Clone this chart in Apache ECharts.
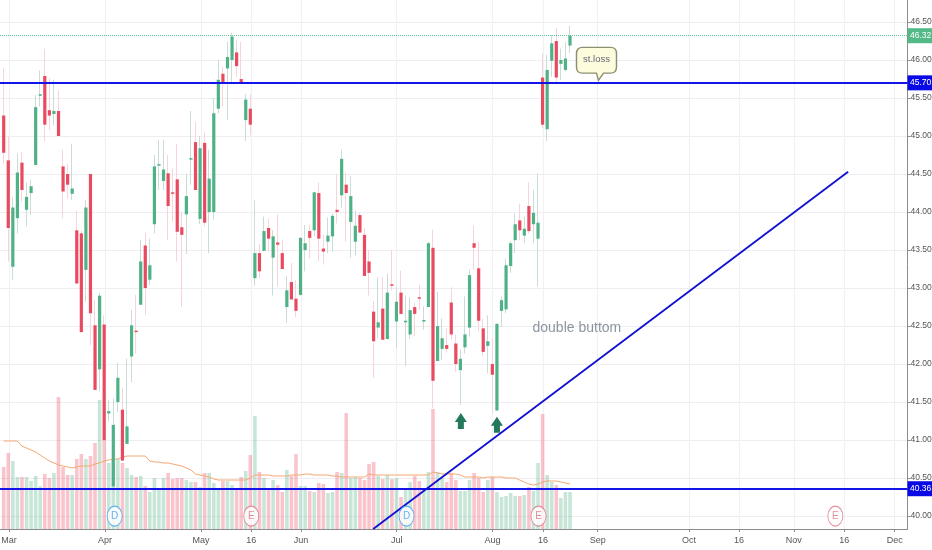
<!DOCTYPE html>
<html>
<head>
<meta charset="utf-8">
<style>html,body{margin:0;padding:0;background:#fff}#c{width:932px;height:550px}</style>
<script src="https://cdn.jsdelivr.net/npm/echarts@6/dist/echarts.min.js"></script>
</head>
<body>
<div id="c"></div>
<script>
const open = [45.27,44.68,43.28,43.92,44.65,44.03,44.25,44.62,45.53,45.79,45.34,45.29,45.33,44.6,44.5,44.24,43.76,43.72,43.24,44.5,
42.51,41.93,42.52,41.35,40.39,41.5,41.4,40.95,42.1,42.44,42.78,43.56,43.11,43.84,44.61,44.41,44.51,44.26,44.43,43.8,
43.97,44.69,44.92,43.91,44.91,44.0,44.0,45.36,45.82,45.89,46.0,46.1,45.75,45.21,45.36,
43.13,43.46,43.49,43.79,43.4,43.6,43.46,42.75,43.08,42.86,42.91,43.5,43.75,43.76,44.25,43.52,43.61,43.68,44.03,44.22,44.36,43.87,43.61,43.96,43.7,
43.35,42.69,42.48,42.73,42.33,43.05,42.56,42.94,42.55,42.39,42.75,42.88,42.56,42.75,43.53,42.04,42.2,42.25,42.81,42.27,
41.92,42.22,42.48,43.59,43.26,42.47,42.24,42.0,41.39,42.7,42.72,43.29,43.63,43.89,43.69,44.08,43.84,43.65,45.77,45.09,
45.99,46.25,45.95,45.87,46.19];
const close = [44.78,43.79,44.06,44.52,44.29,44.2,44.34,45.38,45.55,45.15,45.27,45.33,45.0,44.27,44.36,44.31,43.06,42.42,44.06,42.67,
41.66,42.9,41.0,41.38,41.2,41.82,40.73,41.18,42.51,42.42,43.35,43.0,43.3,44.6,44.63,44.56,44.08,44.24,43.74,43.7,
44.21,44.71,44.29,44.84,43.86,44.44,45.3,45.74,45.7,46.04,46.31,45.92,45.7,45.48,45.15,
43.46,43.22,43.75,43.65,43.68,43.57,43.25,42.97,42.85,42.7,43.66,43.59,43.66,44.26,43.65,43.48,43.69,43.95,44.0,44.7,44.25,44.21,43.82,43.73,43.16,
43.2,42.3,42.55,42.32,42.94,43.03,42.82,42.66,42.57,42.71,42.66,42.86,42.58,43.59,41.78,42.5,42.34,42.2,42.39,42.0,
42.07,42.39,43.17,43.53,42.57,42.16,42.3,41.86,42.53,42.84,43.3,43.59,43.84,43.76,43.78,43.75,43.99,43.86,45.15,45.87,
46.22,45.77,46.0,46.02,46.32];
const low = [44.64,43.35,43.11,43.72,44.14,43.81,43.96,44.62,45.39,44.93,45.08,45.14,45.0,43.92,44.18,44.16,43.06,42.42,42.82,42.25,
41.66,41.64,41.0,41.24,40.3,41.37,40.73,40.95,41.76,42.14,42.78,42.65,43.04,43.72,44.29,44.29,43.63,43.87,43.35,42.75,
43.45,44.36,44.29,43.84,43.81,43.46,43.9,45.3,45.39,45.21,45.68,45.78,45.69,44.93,45.01,
43.03,43.13,43.48,43.48,42.9,43.02,43.25,42.54,42.85,42.62,42.9,43.22,43.39,43.68,43.35,43.31,43.46,43.48,43.85,44.06,43.61,43.4,43.43,43.73,43.16,
42.9,41.82,42.34,42.32,42.32,42.97,42.21,42.66,41.97,42.33,42.37,42.71,42.45,42.75,41.42,42.04,42.05,42.15,42.32,41.9,
41.46,42.14,42.36,43.24,42.43,42.1,41.88,41.35,41.38,42.49,42.67,43.2,43.46,43.63,43.59,43.72,43.59,43.02,45.1,44.93,
45.78,45.71,45.74,45.85,46.09];
const high = [45.89,45.0,44.2,44.77,44.79,44.39,44.42,45.54,45.86,46.15,45.76,45.74,45.6,44.82,44.63,44.9,44.02,43.76,44.16,44.5,
42.84,42.94,42.64,41.53,41.55,42.02,41.68,42.07,42.71,42.91,43.63,43.73,43.65,44.75,44.95,44.95,44.75,44.57,44.9,44.0,
44.5,45.33,45.19,45.0,45.06,44.82,45.5,46.0,45.91,46.24,46.36,46.26,46.24,45.55,45.55,
44.16,43.58,43.94,43.92,43.76,43.97,43.63,43.16,43.33,43.1,43.67,43.83,43.83,44.27,44.39,43.7,43.93,43.98,44.5,44.82,44.52,44.47,44.02,43.99,43.79,
43.5,42.83,43.14,43.15,43.19,43.5,43.02,43.23,42.9,42.88,42.8,43.04,42.76,43.61,43.77,42.95,42.6,42.47,43.01,42.39,
42.19,42.89,43.24,43.82,43.61,42.6,42.64,42.34,42.53,42.89,43.39,43.62,43.98,44.11,43.94,44.39,44.29,44.51,46.09,46.07,
46.33,46.42,46.15,46.24,46.45];
const volume = [62,76,68,52,52,52,48,53,43,55,51,56,132,62,54,54,70,75,70,73,
86,129,89,66,69,70,66,61,54,52,53,43,37,51,39,51,56,50,51,51,
49,47,47,42,56,56,46,41,48,48,44,41,52,58,74,113,57,51,41,49,
44,37,59,53,75,43,43,38,37,46,45,36,37,57,56,116,51,52,51,49,
65,67,53,50,54,50,51,32,41,47,53,48,41,57,120,57,51,47,56,49,
38,38,49,56,51,37,49,52,37,32,33,36,33,33,34,42,38,66,115,54,
47,44,31,37,37];
const volumeAverage = [88,88,88,88,83,81,79,77,74,71,68,66,64,63,62,61,62,63,63,63,
65,66,68,69,70,70,72,73,73,73,73,73,68,67,67,66,66,65,64,63,
61,59,55,54,53,52,50,49,49,49,49,49,49,49,51,54,54,54,54,53,
53,53,53,54,54,54,55,55,54,54,54,54,53,53,52,52,52,52,52,52,
55,54,54,54,54,54,54,54,54,54,54,54,54,54,57,56,55,55,55,55,
54,52,52,52,52,51,52,52,52,52,51,51,51,49,47,45,44,45,47,48,
48,48,47,46,45];
const dateTickBars = [1.15,22.2,43.2,54.2,65.1,86.05,107.05,118.1,130.05,150.05,161,173,184.05,195.1];
const dateTickLabels = ['Mar','Apr','May','16','Jun','Jul','Aug','16','Sep','Oct','16','Nov','16','Dec'];
const priceTicks = [40,40.5,41,41.5,42,42.5,43,43.5,44,44.5,45,45.5,46,46.5];
const horizontalLevels = [45.70,40.36];
const lastPrice = 46.32;
const trendline = [[80.9,39.83],[184.9,44.53]];
const dividendEvents = [[24.3,40],[88.2,40]];
const earningsEvents = [[54.2,40],[117.1,40],[182.1,40]];
const arrowMarks = [[100.1,41.25],[108,41.2]];
const noteStopLoss = [129.8,45.95];
const noteDoubleBottom = [125.5,42.47];

const GREEN='#4fb286', RED='#e84a5f', WICK_G='#c9dcd6', WICK_R='#f8d3da';
const sans='"Liberation Sans",sans-serif';
const bars = open.map((_,i)=>i);
const isUp = i => close[i]>=open[i];
const wickData = bars.map(i=>({value:[i,open[i],close[i],low[i],high[i]],
  itemStyle:{color:'transparent',color0:'transparent',borderColor:isUp(i)?WICK_G:WICK_R,borderColor0:isUp(i)?WICK_G:WICK_R,borderColorDoji:isUp(i)?WICK_G:WICK_R,borderWidth:1}}));
const bodyData = bars.map(i=>[i,open[i],close[i]]);
const volData = bars.map(i=>({value:[i,volume[i]],itemStyle:{color:isUp(i)?'rgba(80,178,134,0.32)':'rgba(240,85,110,0.35)'}}));
const tag=(v,bg)=>({yAxis:v,label:{show:true,position:'end',distance:0,formatter:v.toFixed(2),color:'#fff',backgroundColor:bg,
  fontFamily:sans,fontSize:8.5,padding:[3.5,2.5,2.5,2.5]}});
const arrowPath='path://M6 0 L12 9 L9 9 L9 16 L3 16 L3 9 L0 9 Z';
const balloonPath='path://M6 0 L34 0 Q40 0 40 6 L40 19 Q40 25 34 25 L27 25 L22 32 L20 25 L6 25 Q0 25 0 19 L0 6 Q0 0 6 0 Z';
const eventSeries=(data,letter,col)=>({type:'scatter',data,yAxisIndex:0,z:6,symbol:'circle',symbolSize:[15,20],silent:true,
  itemStyle:{color:'#fff',borderColor:col,borderWidth:1},
  label:{show:true,position:'inside',formatter:letter,color:col,fontSize:10,fontFamily:sans}});
const renderBody=(params,api)=>{
  const a=api.coord([api.value(0),api.value(1)]), b=api.coord([api.value(0),api.value(2)]);
  const top=Math.min(a[1],b[1]), h=Math.max(Math.abs(a[1]-b[1]),1.5), w=3.2;
  return {type:'rect',shape:{x:a[0]-w/2,y:top,width:w,height:h},
    style:{fill:api.value(2)>=api.value(1)?GREEN:RED}};
};

const chart=echarts.init(document.getElementById('c'),null,{renderer:'canvas'});
chart.setOption({
  animation:false,backgroundColor:'#fff',
  grid:{left:0,right:24.5,top:0,bottom:21,outerBoundsMode:'none'},
  xAxis:{type:'value',min:-0.81,max:197.9,
    axisLine:{lineStyle:{color:'#8c8c8c'},onZero:false},
    axisTick:{show:true,length:3,lineStyle:{color:'#8c8c8c'},customValues:dateTickBars},
    axisLabel:{customValues:dateTickBars,color:'#555',fontFamily:sans,fontSize:9,margin:7,
      formatter:v=>dateTickLabels[dateTickBars.indexOf(v)]},
    splitLine:{show:true,lineStyle:{color:'#f1f1f5',width:1.2}}},
  yAxis:[{type:'value',position:'right',min:39.83,max:46.79,
    axisLine:{show:true,lineStyle:{color:'#8c8c8c'},onZero:false},
    axisTick:{show:true,length:3,lineStyle:{color:'#8c8c8c'},customValues:priceTicks},
    axisLabel:{customValues:priceTicks,color:'#555',fontFamily:sans,fontSize:8.5,margin:3,formatter:v=>v.toFixed(2)},
    splitLine:{show:true,lineStyle:{color:'#eeeef2',width:1.2}}},
   {type:'value',min:0,max:529,show:false,splitLine:{show:false}}],
  series:[
    {type:'bar',name:'Volume',data:volData,yAxisIndex:1,barWidth:3.6,z:1,silent:true},
    {type:'line',name:'Volume MA',data:bars.map(i=>[i,volumeAverage[i]]),yAxisIndex:1,showSymbol:false,z:3,silent:true,
      lineStyle:{color:'#f4a870',width:1}},
    {type:'candlestick',name:'wicks',data:wickData,yAxisIndex:0,barWidth:1,z:2,silent:true},
    {type:'custom',name:'bodies',data:bodyData,yAxisIndex:0,z:4,silent:true,clip:true,renderItem:renderBody,
      encode:{x:0,y:[1,2]}},
    {type:'line',name:'levels',data:[],yAxisIndex:0,z:5,silent:true,
      markLine:{silent:true,symbol:'none',animation:false,z:5,
        lineStyle:{color:'#1414e6',width:2,type:'solid'},
        data:[tag(horizontalLevels[0],'#0a0ae6'),tag(horizontalLevels[1],'#0a0ae6')]}},
    {type:'line',name:'last',data:[],yAxisIndex:0,z:5,silent:true,
      markLine:{silent:true,symbol:'none',animation:false,z:5,
        lineStyle:{color:'#5fc09a',width:1,type:'dotted'},
        data:[tag(lastPrice,'#53b987')]}},
    {type:'line',name:'trend',data:trendline,yAxisIndex:0,showSymbol:false,z:5,silent:true,
      lineStyle:{color:'#1010d0',width:1.8}},
    eventSeries(dividendEvents,'D','#3d9df0'),
    eventSeries(earningsEvents,'E','#e0707f'),
    {type:'scatter',name:'arrows',data:arrowMarks,yAxisIndex:0,symbol:arrowPath,symbolSize:[12,16],z:6,silent:true,
      itemStyle:{color:'#23795a',opacity:1}},
    {type:'scatter',name:'stop note',data:[noteStopLoss],yAxisIndex:0,symbol:balloonPath,symbolSize:[40,33],z:6,silent:true,
      itemStyle:{color:'#fdfcdc',borderColor:'#8e8e74',borderWidth:1.3,opacity:1},
      label:{show:true,position:'inside',offset:[0,-4],formatter:'st.loss',color:'#667',fontSize:9.5,fontFamily:sans}},
    {type:'scatter',name:'double note',data:[noteDoubleBottom],yAxisIndex:0,symbolSize:0,z:6,silent:true,
      label:{show:true,position:'inside',formatter:'double buttom',color:'#6f7a86',fontSize:14,fontFamily:sans}}
  ]
});
</script>
</body>
</html>
